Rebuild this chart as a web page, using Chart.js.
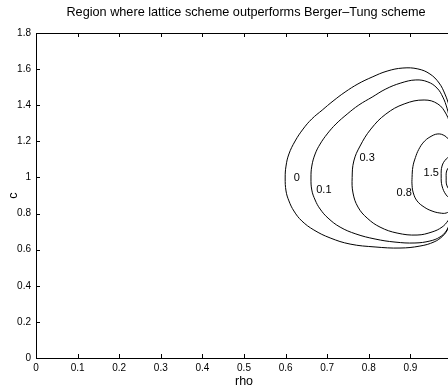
<!DOCTYPE html>
<html>
<head>
<meta charset="utf-8">
<script src="https://cdn.jsdelivr.net/npm/chart.js@4"></script>
<style>
  html, body { margin: 0; padding: 0; background: #fff; overflow: hidden; }
  #wrap { width: 460px; height: 389px; }
</style>
</head>
<body>
<div id="wrap"><canvas id="chart"></canvas></div>
<script>
const xTicks = [0, 0.1, 0.2, 0.3, 0.4, 0.5, 0.6, 0.7, 0.8, 0.9, 1];
const yTicks = [0, 0.2, 0.4, 0.6, 0.8, 1, 1.2, 1.4, 1.6, 1.8];

// contour lines, [rho, c], bottom-right -> left -> top-right
const contour0 = [[0.998,0.759],[0.99,0.714],[0.978,0.676],[0.957,0.643],[0.923,0.62],[0.875,0.609],[0.815,0.615],[0.755,0.631],[0.707,0.665],[0.668,0.709],[0.639,0.759],[0.62,0.814],[0.608,0.87],[0.601,0.925],[0.599,0.997],[0.601,1.063],[0.608,1.13],[0.623,1.202],[0.642,1.268],[0.663,1.324],[0.688,1.373],[0.714,1.423],[0.743,1.473],[0.774,1.518],[0.808,1.556],[0.844,1.589],[0.882,1.606],[0.918,1.601],[0.947,1.573],[0.969,1.523],[0.983,1.462],[0.993,1.396],[0.998,1.34]];
const contour01 = [[0.995,0.748],[0.986,0.703],[0.971,0.67],[0.947,0.648],[0.911,0.637],[0.863,0.642],[0.815,0.659],[0.769,0.687],[0.731,0.725],[0.702,0.775],[0.683,0.825],[0.671,0.875],[0.663,0.93],[0.661,0.997],[0.663,1.063],[0.671,1.13],[0.683,1.185],[0.7,1.241],[0.721,1.296],[0.748,1.351],[0.776,1.401],[0.808,1.445],[0.841,1.49],[0.877,1.523],[0.913,1.54],[0.942,1.529],[0.964,1.495],[0.978,1.445],[0.988,1.384],[0.995,1.318]];
const contour03 = [[0.998,0.792],[0.99,0.759],[0.976,0.725],[0.952,0.698],[0.916,0.681],[0.868,0.692],[0.827,0.725],[0.796,0.775],[0.774,0.836],[0.762,0.914],[0.76,1.0],[0.764,1.091],[0.779,1.174],[0.805,1.268],[0.841,1.351],[0.885,1.407],[0.933,1.429],[0.966,1.407],[0.986,1.351],[0.998,1.279]];
const contour08 = [[0.998,0.82],[0.986,0.803],[0.971,0.803],[0.952,0.814],[0.933,0.836],[0.916,0.87],[0.907,0.914],[0.904,0.957],[0.904,1.0],[0.906,1.06],[0.912,1.11],[0.92,1.155],[0.932,1.196],[0.947,1.224],[0.966,1.241],[0.983,1.23],[0.995,1.202]];
const contour15 = [[1.0,0.875],[0.986,0.903],[0.976,0.953],[0.974,1.008],[0.976,1.063],[0.986,1.102],[1.0,1.124]];
const contourIn = [[1.0,0.914],[0.988,0.953],[0.986,0.997],[0.988,1.041],[1.0,1.074]];

const levelText = ["0", "0.1", "0.3", "0.8", "1.5"];
const levelAt = [[0.627,0.997],[0.692,0.93],[0.796,1.108],[0.885,0.914],[0.95,1.025]];

const toPts = (arr) => arr.map(([x, y]) => ({ x, y }));
const line = (arr) => ({
  data: toPts(arr),
  showLine: true,
  borderColor: "#000",
  borderWidth: 1,
  pointRadius: 0,
  tension: 0.4,
});

const font = "'Liberation Sans', Arial, sans-serif";

const frame = {
  id: "frame",
  afterDraw(chart) {
    const { ctx, chartArea: a, scales: { x, y } } = chart;
    ctx.save();
    ctx.strokeStyle = "#000";
    ctx.lineWidth = 1;
    ctx.strokeRect(a.left + 0.5, a.top + 0.5, a.right - a.left, a.bottom - a.top);
    ctx.beginPath();
    const t = 4;
    for (const v of xTicks) {
      const px = Math.round(x.getPixelForValue(v)) + 0.5;
      ctx.moveTo(px, a.bottom); ctx.lineTo(px, a.bottom - t);
      ctx.moveTo(px, a.top); ctx.lineTo(px, a.top + t);
    }
    for (const v of yTicks) {
      const py = Math.round(y.getPixelForValue(v)) + 0.5;
      ctx.moveTo(a.left, py); ctx.lineTo(a.left + t, py);
      ctx.moveTo(a.right, py); ctx.lineTo(a.right - t, py);
    }
    ctx.stroke();

    // contour labels
    ctx.fillStyle = "#000";
    ctx.font = "11px " + font;
    ctx.textAlign = "center";
    ctx.textBaseline = "middle";
    levelText.forEach((s, i) => {
      ctx.fillText(s, x.getPixelForValue(levelAt[i][0]), y.getPixelForValue(levelAt[i][1]));
    });

    // title
    ctx.font = "12.7px " + font;
    ctx.fillText("Region where lattice scheme outperforms Berger\u2013Tung scheme", (a.left + a.right) / 2 + 2, 12);
    ctx.restore();
  },
};

new Chart(document.getElementById("chart"), {
  type: "scatter",
  data: {
    datasets: [contour0, contour01, contour03, contour08, contour15, contourIn].map(line),
  },
  options: {
    responsive: true,
    maintainAspectRatio: false,
    animation: false,
    layout: { padding: { top: 33, right: 8, bottom: 0, left: 0 } },
    plugins: { legend: { display: false }, tooltip: { enabled: false } },
    scales: {
      x: {
        type: "linear",
        min: 0,
        max: 1,
        afterBuildTicks: (s) => { s.ticks = xTicks.map((value) => ({ value })); },
        afterFit: (s) => { s.height = 31; },
        grid: { display: false, drawTicks: false },
        border: { display: false },
        ticks: { color: "#000", padding: 4, maxRotation: 0, callback: (v) => String(v), font: { family: font, size: 10 } },
        title: { display: true, text: "rho", color: "#000", padding: 0, font: { family: font, size: 12.5 } },
      },
      y: {
        type: "linear",
        min: 0,
        max: 1.8,
        afterBuildTicks: (s) => { s.ticks = yTicks.map((value) => ({ value })); },
        afterFit: (s) => { s.width = 36; },
        grid: { display: false, drawTicks: false },
        border: { display: false },
        ticks: { color: "#000", padding: 5, callback: (v) => String(v), font: { family: font, size: 10 } },
        title: { display: true, text: "c", color: "#000", padding: { top: 6, bottom: 0 }, font: { family: font, size: 12.5 } },
      },
    },
  },
  plugins: [frame],
});
</script>
</body>
</html>
